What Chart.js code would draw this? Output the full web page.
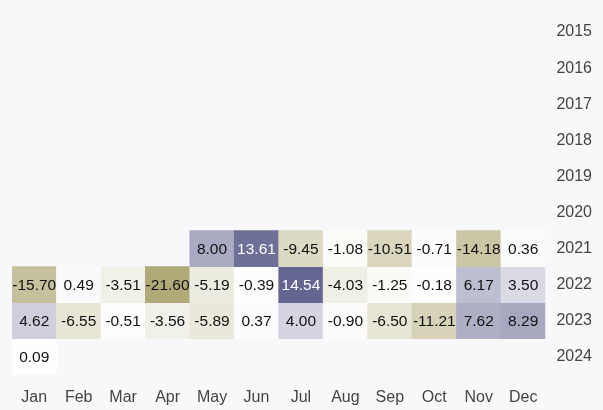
<!DOCTYPE html>
<html>
<head>
<meta charset="utf-8">
<script src="https://cdn.jsdelivr.net/npm/chart.js@4"></script>
<style>
  html, body { margin: 0; padding: 0; background: #f8f8fb; }
  #wrap { width: 603px; height: 410px; }
</style>
</head>
<body>
<div id="wrap"><canvas id="heat"></canvas></div>
<script>
const months = ['Jan', 'Feb', 'Mar', 'Apr', 'May', 'Jun', 'Jul', 'Aug', 'Sep', 'Oct', 'Nov', 'Dec'];
const years = ['2015', '2016', '2017', '2018', '2019', '2020', '2021', '2022', '2023', '2024'];

// monthly values per year (null = no data)
const v2021 = [null, null, null, null, 8.00, 13.61, -9.45, -1.08, -10.51, -0.71, -14.18, 0.36];
const v2022 = [-15.70, 0.49, -3.51, -21.60, -5.19, -0.39, 14.54, -4.03, -1.25, -0.18, 6.17, 3.50];
const v2023 = [4.62, -6.55, -0.51, -3.56, -5.89, 0.37, 4.00, -0.90, -6.50, -11.21, 7.62, 8.29];
const v2024 = [0.09, null, null, null, null, null, null, null, null, null, null, null];

const rows = { '2021': v2021, '2022': v2022, '2023': v2023, '2024': v2024 };

const all = [].concat(v2021, v2022, v2023, v2024).filter(v => v !== null);
const maxPos = Math.max(...all);
const maxNeg = Math.min(...all);

const POS = [100, 102, 145];
const NEG = [176, 170, 120];
const FONT = '"Liberation Sans", Arial, sans-serif';

function cellColor(v) {
  const t = v >= 0 ? v / maxPos : v / maxNeg;
  const c = v >= 0 ? POS : NEG;
  const mix = c.map(ch => Math.round(255 - t * (255 - ch)));
  return `rgb(${mix[0]},${mix[1]},${mix[2]})`;
}

const datasets = years.filter(y => rows[y]).map(y => {
  const row = years.indexOf(y);
  const vals = rows[y];
  return {
    label: y,
    values: vals,
    data: vals.map(v => v === null ? null : [row, row + 1]),
    backgroundColor: vals.map(v => v === null ? 'transparent' : cellColor(v)),
    borderWidth: 0,
    barPercentage: 1,
    categoryPercentage: 1,
    grouped: false
  };
});

const cellLabels = {
  id: 'cellLabels',
  afterDatasetsDraw(chart) {
    const ctx = chart.ctx;
    ctx.save();
    ctx.font = '15.5px ' + FONT;
    ctx.textAlign = 'center';
    ctx.textBaseline = 'middle';
    chart.data.datasets.forEach((ds, di) => {
      chart.getDatasetMeta(di).data.forEach((el, i) => {
        const v = ds.values[i];
        if (v === null) return;
        ctx.fillStyle = (v > 0 && v / maxPos > 0.75) ? '#ffffff' : '#111111';
        ctx.fillText(v.toFixed(2), el.x, (el.y + el.base) / 2 + 1);
      });
    });
    ctx.restore();
  }
};

new Chart(document.getElementById('heat'), {
  type: 'bar',
  data: { labels: months, datasets: datasets },
  plugins: [cellLabels],
  options: {
    responsive: true,
    maintainAspectRatio: false,
    animation: false,
    layout: { padding: { left: 12, top: 14, right: 0, bottom: -10 } },
    plugins: { legend: { display: false }, tooltip: { enabled: false } },
    scales: {
      x: {
        grid: { display: false, drawTicks: false },
        border: { display: false },
        ticks: { color: '#444', font: { size: 16, family: FONT }, padding: 13 }
      },
      y: {
        type: 'linear',
        position: 'right',
        reverse: true,
        min: 0,
        max: years.length,
        grid: { display: false, drawTicks: false },
        border: { display: false },
        afterBuildTicks: axis => { axis.ticks = years.map((y, i) => ({ value: i + 0.5 })); },
        afterFit: axis => { axis.paddingTop = 0; axis.paddingBottom = 0; },
        ticks: {
          color: '#444',
          padding: 11,
          font: { size: 16, family: FONT },
          callback: (val, idx) => years[idx]
        }
      }
    }
  }
});
</script>
</body>
</html>
